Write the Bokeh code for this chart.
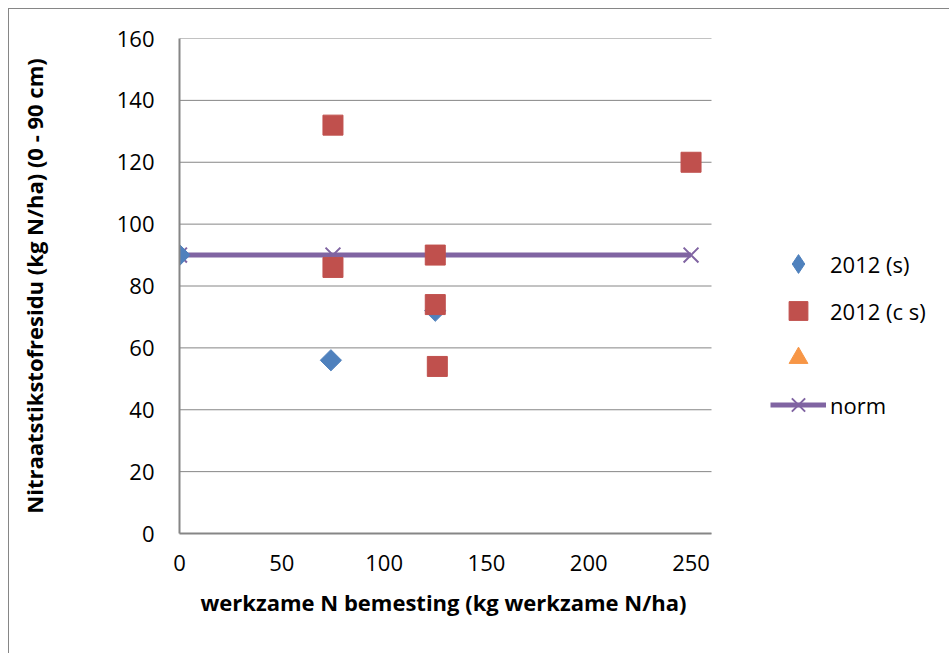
from bokeh.plotting import figure
from bokeh.models import Legend, LegendItem, Range1d, FixedTicker, Title
from bokeh.embed import file_html
from bokeh.resources import INLINE
import math

# data
s_x = [0, 74, 125]
s_y = [90, 56, 72]
cs_x = [75, 75, 125, 125, 126, 250]
cs_y = [86, 132, 90, 74, 54, 120]
tri_x = [float("nan")]   # empty series (shown only in the legend)
tri_y = [float("nan")]
norm_x = [0, 75, 125, 250]
norm_y = [90, 90, 90, 90]
x_ticks = [0, 50, 100, 150, 200, 250]
y_ticks = [0, 20, 40, 60, 80, 100, 120, 140, 160]
x_axis_max = 260
y_axis_max = 160
x_title = "werkzame N bemesting (kg werkzame N/ha)"
y_title = "Nitraatstikstofresidu (kg N/ha) (0 - 90 cm)"

FONT = "Open Sans"
GRAY = "#868686"
BLUE, RED, ORANGE, PURPLE = "#4F81BD", "#C0504D", "#F79646", "#8064A2"

# layout (pixels)
W, H = 949, 653
LEFT, TOP, BOTTOM = 179, 38, 120
AXIS_RIGHT_PX = 711
frame_w = W - LEFT
x_view_end = x_axis_max * frame_w / (AXIS_RIGHT_PX - LEFT)

p = figure(width=W, height=H, output_backend="svg", toolbar_location=None,
           x_range=Range1d(0, x_view_end), y_range=Range1d(0, y_axis_max),
           min_border_left=LEFT, min_border_right=0, min_border_top=TOP, min_border_bottom=BOTTOM)
p.outline_line_color = None
p.background_fill_alpha = 0
p.border_fill_alpha = 0
p.styles = {
    "background": (f"linear-gradient({GRAY},{GRAY}) 8px 8px / 1px 100% no-repeat, "
                   f"linear-gradient({GRAY},{GRAY}) 8px 8px / 100% 1px no-repeat, white"),
}

p.xgrid.visible = False
p.ygrid.visible = False
# horizontal gridlines limited to the axis extent
p.segment(x0=[0] * len(y_ticks), x1=[x_axis_max] * len(y_ticks), y0=y_ticks, y1=y_ticks,
          line_color=GRAY, line_width=1)

p.xaxis.ticker = FixedTicker(ticks=x_ticks)
p.yaxis.ticker = FixedTicker(ticks=y_ticks)
p.xaxis.bounds = (0, x_axis_max)
for ax in (p.xaxis[0], p.yaxis[0]):
    ax.axis_line_color = GRAY
    ax.axis_line_width = 2
    ax.major_tick_line_color = None
    ax.minor_tick_line_color = None
    ax.major_tick_out = 0
    ax.major_tick_in = 0
    ax.major_label_text_font = FONT
    ax.major_label_text_font_size = "22px"
    ax.major_label_text_color = "black"
    ax.axis_label_text_font = FONT
    ax.axis_label_text_font_size = "22px"
    ax.axis_label_text_font_style = "bold"
    ax.axis_label_text_color = "black"

p.yaxis.axis_label = y_title
p.xaxis.major_label_standoff = 21
p.yaxis.major_label_standoff = 25
p.yaxis.axis_label_standoff = 65

xt = Title(text=x_title, align="left", offset=21, standoff=23,
           text_font=FONT, text_font_size="22px", text_font_style="bold", text_color="black")
p.add_layout(xt, "below")

r_norm_line = p.line(norm_x, norm_y, line_color=PURPLE, line_width=5)
r_norm_x = p.scatter(norm_x, norm_y, marker="x", size=21, line_color=PURPLE, line_width=2)
r_s = p.scatter(s_x, s_y, marker="square", angle=math.pi / 4, size=15,
                fill_color=BLUE, line_color=BLUE)
r_cs = p.scatter(cs_x, cs_y, marker="square", size=20, fill_color=RED, line_color=RED)
r_tri = p.scatter(tri_x, tri_y, marker="triangle", size=18, fill_color=ORANGE, line_color=ORANGE)
# legend symbol for the diamond series (legend markers are not rotated)
r_s_key = p.scatter(tri_x, tri_y, marker="diamond", size=20, fill_color=BLUE, line_color=BLUE)

legend = Legend(items=[
    LegendItem(label="2012 (s)", renderers=[r_s_key]),
    LegendItem(label="2012 (c s)", renderers=[r_cs]),
    LegendItem(label="\u00a0", renderers=[r_tri]),
    LegendItem(label="norm", renderers=[r_norm_line, r_norm_x]),
], location=(591, 105))
legend.border_line_color = None
legend.background_fill_alpha = 0
legend.label_text_font = FONT
legend.label_text_font_size = "22px"
legend.label_text_color = "black"
legend.glyph_width = 56
legend.glyph_height = 47
legend.spacing = 0
legend.label_standoff = 4
legend.padding = 0
legend.margin = 0
p.add_layout(legend, "center")

open("out.html", "w").write(file_html(p, INLINE))
